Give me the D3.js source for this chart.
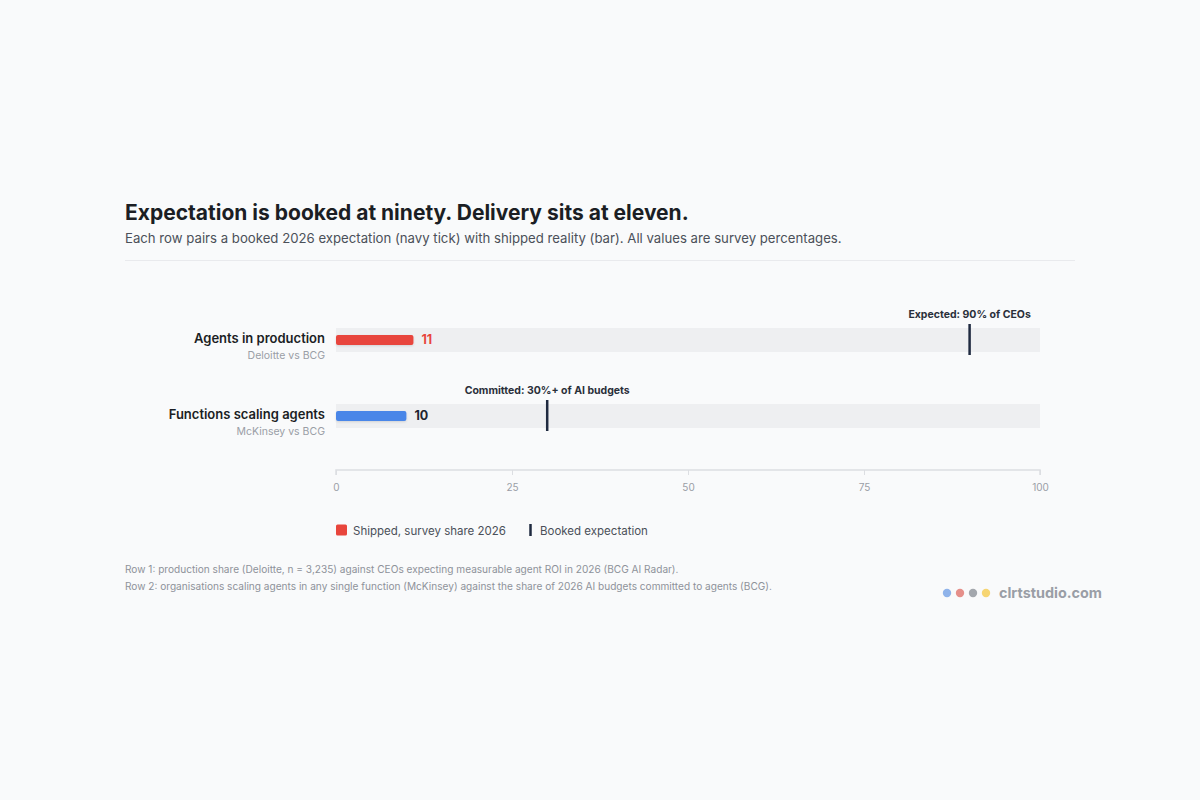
<!DOCTYPE html>
<html><head><meta charset="utf-8">
<script src="https://cdn.jsdelivr.net/npm/d3@7"></script>
<style>
html,body{margin:0;padding:0;background:#f9fafb;}
body{font-family:Inter,"Noto Sans",sans-serif;}
</style></head>
<body><svg id="c" width="1200" height="800"></svg>
<script>
const categories = ["Agents in production", "Functions scaling agents"];
const subLabels = ["Deloitte vs BCG", "McKinsey vs BCG"];
const shipped = [11, 10];
const expected = [90, 30];
const expectedLabels = ["Expected: 90% of CEOs", "Committed: 30%+ of AI budgets"];
const barColors = ["#e8453c", "#4a86e8"];
const valueColors = ["#e8453c", "#1f2430"];
const tickValues = [0, 25, 50, 75, 100];
const footnotes = [
  "Row 1: production share (Deloitte, n = 3,235) against CEOs expecting measurable agent ROI in 2026 (BCG AI Radar).",
  "Row 2: organisations scaling agents in any single function (McKinsey) against the share of 2026 AI budgets committed to agents (BCG)."
];
const legendLabels = ["Shipped, survey share 2026", "Booked expectation"];
const brandDots = ["#8fb3ea", "#e58f8a", "#a3a7ad", "#f6d573"];

const svg = d3.select("#c");
const navy = "#1f2a40";

const defs = svg.append("defs");
const f = defs.append("filter").attr("id","sh").attr("x","-10%").attr("y","-50%").attr("width","120%").attr("height","200%");
f.append("feDropShadow").attr("dx",0).attr("dy",1).attr("stdDeviation",1).attr("flood-color","#000").attr("flood-opacity",0.12);

svg.append("text").attr("x",125).attr("y",220).attr("font-size",21).attr("font-weight",700)
  .attr("fill","#1b1e24").text("Expectation is booked at ninety. Delivery sits at eleven.");
svg.append("text").attr("x",125).attr("y",243).attr("font-size",13.2).attr("fill","#4b5059")
  .text("Each row pairs a booked 2026 expectation (navy tick) with shipped reality (bar). All values are survey percentages.");
svg.append("line").attr("x1",125).attr("x2",1075).attr("y1",260.5).attr("y2",260.5).attr("stroke","#e9eaed");

const x = d3.scaleLinear().domain([0,100]).range([336,1040]);
const y = d3.scalePoint().domain(categories).range([340,416]);
const th = 24;

const rows = svg.append("g").selectAll("g").data(categories).join("g")
  .attr("transform", d => `translate(0,${y(d)})`);

rows.append("rect").attr("x", x(0)).attr("width", x(100)-x(0)).attr("y",-th/2).attr("height", th).attr("fill","#eeeff1");
rows.append("rect").attr("x", x(0)).attr("y", -5).attr("height",10).attr("rx",2).attr("filter","url(#sh)")
  .attr("width",(d,i)=>x(shipped[i])-x(0)).attr("fill",(d,i)=>barColors[i]);
rows.append("text").attr("x",(d,i)=>x(shipped[i])+8).attr("y",4.3).attr("font-size",12.5).attr("font-weight",700)
  .attr("fill",(d,i)=>valueColors[i]).text((d,i)=>shipped[i]);
rows.append("line").attr("x1",(d,i)=>x(expected[i])).attr("x2",(d,i)=>x(expected[i]))
  .attr("y1",-th/2-4).attr("y2",th/2+3).attr("stroke",navy).attr("stroke-width",2.5);
rows.append("text").attr("x",(d,i)=>x(expected[i])).attr("y",-th/2-10).attr("text-anchor","middle")
  .attr("font-size",10.5).attr("font-weight",700).attr("fill","#2a2f3a").text((d,i)=>expectedLabels[i]);
rows.append("text").attr("x",325).attr("y",3).attr("text-anchor","end").attr("font-size",13).attr("font-weight",600)
  .attr("fill","#1b1e24").text(d=>d);
rows.append("text").attr("x",325).attr("y",19).attr("text-anchor","end").attr("font-size",10.5)
  .attr("fill","#9a9ea6").text((d,i)=>subLabels[i]);

const ax = svg.append("g").attr("transform","translate(0,470)")
  .call(d3.axisBottom(x).tickValues(tickValues).tickSize(5).tickPadding(9));
ax.select(".domain").attr("stroke","#dcdee2").attr("stroke-width",1.5).attr("d","M336,5V0H1040V5");
ax.selectAll(".tick line").attr("stroke","#dcdee2");
ax.selectAll(".tick text").attr("fill","#9a9ea6").attr("font-size",10).attr("font-family","Inter,sans-serif");

const lg = svg.append("g").attr("transform","translate(336,530)");
lg.append("rect").attr("x",0).attr("y",-5.5).attr("width",11).attr("height",11).attr("rx",1.5).attr("fill",barColors[0]);
lg.append("text").attr("x",17).attr("y",4.5).attr("font-size",11.5).attr("fill","#4b5059").text(legendLabels[0]);
lg.append("line").attr("x1",194.5).attr("x2",194.5).attr("y1",-6).attr("y2",6).attr("stroke",navy).attr("stroke-width",2.5);
lg.append("text").attr("x",204).attr("y",4.5).attr("font-size",11.5).attr("fill","#4b5059").text(legendLabels[1]);

svg.append("g").selectAll("text").data(footnotes).join("text")
  .attr("x",125).attr("y",(d,i)=>573+i*17).attr("font-size",10.1).attr("fill","#8e929a").text(d=>d);

svg.append("g").selectAll("circle").data(brandDots).join("circle")
  .attr("cx",(d,i)=>947+i*13).attr("cy",593).attr("r",4.2).attr("fill",d=>d);
svg.append("text").attr("x",999).attr("y",598).attr("font-size",14.4).attr("font-weight",700)
  .attr("fill","#9a9ea6").text("clrtstudio.com");
</script></body></html>
